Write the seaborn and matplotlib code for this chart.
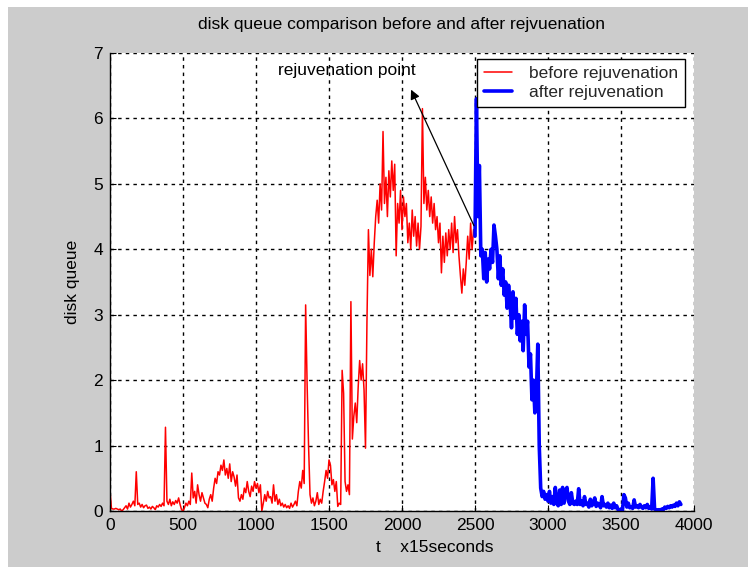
import numpy as np
import pandas as pd
import matplotlib
matplotlib.use("Agg")
import matplotlib.pyplot as plt
from matplotlib.patches import Rectangle
import seaborn as sns

# Disk queue length sampled every STEP ticks (one tick = 15 seconds)
STEP = 10

before_start = 0
before_queue = [
    0.30, 0.04, 0.03, 0.03, 0.04, 0.03, 0.02, 0.03, 0.00, 0.02,
    0.05, 0.08, 0.03, 0.12, 0.06, 0.10, 0.15, 0.08, 0.60, 0.10,
    0.12, 0.06, 0.10, 0.05, 0.08, 0.09, 0.04, 0.06, 0.03, 0.07,
    0.05, 0.02, 0.08, 0.06, 0.10, 0.07, 0.12, 0.08, 1.28, 0.15,
    0.10, 0.18, 0.08, 0.14, 0.10, 0.16, 0.12, 0.20, 0.10, 0.02,
    0.00, 0.05, 0.12, 0.08, 0.15, 0.10, 0.58, 0.20, 0.30, 0.12,
    0.40, 0.25, 0.15, 0.28, 0.20, 0.12, 0.10, 0.05, 0.18, 0.25,
    0.15, 0.35, 0.50, 0.42, 0.60, 0.55, 0.70, 0.62, 0.78, 0.55,
    0.65, 0.50, 0.72, 0.45, 0.60, 0.52, 0.38, 0.55, 0.20, 0.15,
    0.25, 0.18, 0.35, 0.28, 0.45, 0.30, 0.22, 0.38, 0.30, 0.45,
    0.35, 0.42, 0.28, 0.40, 0.00, 0.12, 0.25, 0.15, 0.30, 0.20,
    0.22, 0.12, 0.40, 0.15, 0.25, 0.10, 0.18, 0.08, 0.12, 0.06,
    0.10, 0.05, 0.08, 0.04, 0.12, 0.06, 0.10, 0.15, 0.08, 0.30,
    0.45, 0.35, 0.62, 0.42, 3.15, 1.95, 1.00, 0.25, 0.12, 0.20,
    0.08, 0.15, 0.28, 0.10, 0.18, 0.12, 0.30, 0.45, 0.62, 0.50,
    0.78, 0.70, 0.40, 0.48, 0.30, 0.45, 0.07, 0.12, 0.10, 2.15,
    1.80, 0.45, 0.30, 0.40, 0.25, 3.20, 1.10, 1.45, 1.65, 1.35,
    1.90, 2.30, 2.00, 2.25, 1.85, 0.96, 2.90, 4.30, 3.60, 4.00,
    3.58, 4.10, 4.50, 4.75, 4.40, 5.00, 4.60, 5.80, 4.70, 5.10,
    4.50, 5.20, 4.80, 5.35, 4.90, 5.30, 3.90, 4.70, 4.40, 4.90,
    4.30, 4.80, 4.50, 4.70, 4.10, 4.40, 4.00, 4.60, 4.20, 4.50,
    4.05, 4.40, 4.00, 4.35, 6.15, 4.70, 5.10, 4.60, 4.90, 4.50,
    4.80, 4.40, 4.70, 4.30, 4.50, 4.10, 4.40, 3.64, 4.20, 3.80,
    4.25, 3.90, 4.30, 4.00, 4.40, 3.95, 4.50, 4.10, 4.30, 3.90,
    3.60, 3.33, 3.70, 3.45, 3.80, 4.20, 3.85, 4.40, 4.00, 4.30,
]

after_start = 2500
after_queue = [
    4.20, 6.30, 4.50, 5.28, 3.90, 4.00, 3.55, 3.95, 3.50, 3.85,
    3.70, 4.00, 3.80, 4.37, 4.20, 4.00, 3.55, 3.90, 3.45, 3.70,
    3.30, 3.50, 3.10, 3.45, 3.20, 2.80, 3.35, 2.95, 3.25, 2.70,
    3.00, 2.60, 2.90, 2.45, 3.15, 2.70, 2.90, 2.20, 2.40, 1.70,
    2.00, 1.50, 1.75, 2.55, 1.00, 0.35, 0.22, 0.30, 0.18, 0.25,
    0.15, 0.30, 0.12, 0.22, 0.10, 0.36, 0.12, 0.08, 0.32, 0.10,
    0.36, 0.12, 0.30, 0.36, 0.15, 0.10, 0.28, 0.12, 0.10, 0.15,
    0.10, 0.34, 0.10, 0.15, 0.08, 0.22, 0.10, 0.12, 0.06, 0.18,
    0.08, 0.12, 0.20, 0.07, 0.12, 0.10, 0.05, 0.22, 0.08, 0.10,
    0.06, 0.12, 0.05, 0.09, 0.04, 0.12, 0.05, 0.08, 0.02, 0.00,
    0.03, 0.01, 0.25, 0.20, 0.06, 0.12, 0.05, 0.06, 0.04, 0.17,
    0.06, 0.08, 0.05, 0.10, 0.06, 0.04, 0.08, 0.05, 0.10, 0.04,
    0.06, 0.03, 0.50, 0.03, 0.02, 0.01, 0.02, 0.01, 0.03, 0.02,
    0.06, 0.04, 0.07, 0.05, 0.08, 0.06, 0.09, 0.07, 0.12, 0.08,
    0.14, 0.10,
]

x_ticks = [0, 500, 1000, 1500, 2000, 2500, 3000, 3500, 4000]
y_ticks = [0, 1, 2, 3, 4, 5, 6, 7]

title_text = "disk queue comparison before and after rejvuenation"
x_label = "t    x15seconds"
y_label = "disk queue"
series_labels = ["before rejuvenation", "after rejuvenation"]
note_text = "rejuvenation point"
note_xy = (1620, 6.74)
arrow_tip = (2062, 6.44)
arrow_tail = (2493, 4.36)

before = pd.DataFrame({
    "t": before_start + STEP * np.arange(len(before_queue)),
    "queue": before_queue,
})
after = pd.DataFrame({
    "t": after_start + STEP * np.arange(len(after_queue)),
    "queue": after_queue,
})

sns.set_theme(style="white")
plt.rcParams["font.family"] = ["Liberation Sans Narrow", "Liberation Sans", "DejaVu Sans"]
FS = 12.5
plt.rcParams["font.size"] = FS

W, H = 748, 567
fig = plt.figure(figsize=(W / 100, H / 100), dpi=100, facecolor="#cccccc")
# thin white strip along the top and left edges of the window
fig.patches.append(Rectangle((0, 1 - 7 / H), 1, 7 / H, transform=fig.transFigure,
                             facecolor="white", edgecolor="none", zorder=0))
fig.patches.append(Rectangle((0, 0), 8 / W, 1, transform=fig.transFigure,
                             facecolor="white", edgecolor="none", zorder=0))

ax = fig.add_axes([110 / W, (H - 511) / H, (694 - 110) / W, (511 - 53) / H])
ax.set_facecolor("white")

sns.lineplot(data=before, x="t", y="queue", ax=ax, color="#ff0000", linewidth=1.1,
             estimator=None, sort=False, label=series_labels[0])
sns.lineplot(data=after, x="t", y="queue", ax=ax, color="#0000ff", linewidth=2.6,
             estimator=None, sort=False, label=series_labels[1])

ax.set_xlim(x_ticks[0], x_ticks[-1])
ax.set_ylim(y_ticks[0], y_ticks[-1])
ax.set_xticks(x_ticks)
ax.set_yticks(y_ticks)
ax.tick_params(axis="both", direction="in", length=4, width=0.8, color="black",
               labelsize=FS, labelcolor="black", pad=5,
               bottom=True, left=True, top=False, right=False)

ax.grid(True, color="black", linestyle=(0, (2.5, 3.0)), linewidth=1.0)
ax.set_axisbelow(True)
for side in ["top", "right"]:
    ax.spines[side].set_visible(False)
for side in ["left", "bottom"]:
    ax.spines[side].set_visible(True)
    ax.spines[side].set_color("black")
    ax.spines[side].set_linewidth(1.0)

ax.set_title(title_text, fontsize=FS, color="black", pad=17)
ax.set_xlabel(x_label, fontsize=FS, color="black")
ax.xaxis.set_label_coords((435 - 110) / (694 - 110), (511 - 548) / (511 - 53))
ax.xaxis.label.set_va("center")
ax.set_ylabel(y_label, fontsize=FS, color="black")
ax.yaxis.set_label_coords((72 - 110) / (694 - 110), 0.5)
ax.yaxis.label.set_va("center")

ax.text(note_xy[0], note_xy[1], note_text, fontsize=FS, color="black",
        ha="center", va="center")
ax.annotate("", xy=arrow_tip, xytext=arrow_tail,
            arrowprops=dict(arrowstyle="-|>", color="black", lw=0.9,
                            mutation_scale=14, shrinkA=0, shrinkB=0))

leg = ax.legend(loc="upper right", bbox_to_anchor=(685 / W, 1 - 59 / H),
                bbox_transform=fig.transFigure, borderaxespad=0,
                frameon=True, fancybox=False, framealpha=1, fontsize=FS,
                handlelength=1.6, handletextpad=1.0, labelspacing=0.2,
                borderpad=0.4)
leg.get_frame().set_edgecolor("black")
leg.get_frame().set_linewidth(1.0)
leg.get_frame().set_facecolor("white")

fig.savefig("out.png", dpi=100, facecolor=fig.get_facecolor())
